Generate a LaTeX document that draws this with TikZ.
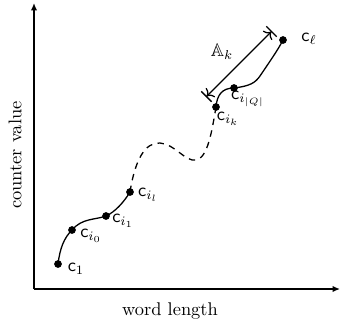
\documentclass[tikz,border=0pt]{standalone}
\usepackage{amssymb}
\usetikzlibrary{arrows.meta}
\begin{document}
\begin{tikzpicture}[x=0.5435pt,y=-0.5435pt,
  dot/.style={circle,fill=black,inner sep=0pt,minimum size=4.2pt},
  lbl/.style={inner sep=1pt},
  axis/.style={line width=0.9pt,-{Latex[length=4pt,width=3.5pt]}},
  curve/.style={line width=0.7pt},
  dcurve/.style={line width=0.7pt,dash pattern=on 3.5pt off 3pt}]
\useasboundingbox (0,0) rectangle (340,331);
\coordinate (o) at (34,289);
\coordinate (ytop) at (34,3);
\coordinate (xend) at (340,289);
\draw[axis] (o) -- (ytop);
\draw[axis] (o) -- (xend);
\node[rotate=90] (ylab) at (15,155) {counter value};
\node (xlab) at (170,311) {word length};

\node[dot] (c1) at (58,264) {};
\node[dot] (ci0) at (72,230) {};
\node[dot] (ci1) at (106,216) {};
\node[dot] (cil) at (130,192) {};
\node[dot] (cik) at (216,107) {};
\node[dot] (ciQ) at (234,88) {};
\node[dot] (cl) at (283,40) {};

\node[lbl] (lc1) at (76,269) {$\mathsf{c}_1$};
\node[lbl] (lci0) at (91,236) {$\mathsf{c}_{i_0}$};
\node[lbl] (lci1) at (123,221) {$\mathsf{c}_{i_1}$};
\node[lbl] (lcil) at (148,195) {$\mathsf{c}_{i_l}$};
\node[lbl] (lcik) at (228,119) {$\mathsf{c}_{i_k}$};
\node[lbl] (lciQ) at (248,99) {$\mathsf{c}_{i_{|Q|}}$};
\node[lbl] (lcl) at (309,39) {$\mathsf{c}_\ell$};

\draw[curve] (c1.center) .. controls (60,248) and (64,238) .. (ci0.center)
  .. controls (82,218) and (95,220) .. (ci1.center)
  .. controls (115,212) and (124,202) .. (cil.center);
\draw[dcurve] (cil.center) .. controls (135,160) and (145,142) .. (160,143)
  .. controls (175,144) and (185,162) .. (196,160)
  .. controls (208,158) and (212,130) .. (cik.center);
\draw[curve] (cik.center) .. controls (217,95) and (222,88) .. (ciQ.center)
  .. controls (250,86) and (255,83) .. (260,76)
  .. controls (268,64) and (278,50) .. (cl.center);

\coordinate (aa) at (206,97);
\coordinate (ab) at (272,31);
\draw[line width=0.7pt,{Bar[width=8pt]To[length=3pt,width=7pt]}-{To[length=3pt,width=7pt]Bar[width=8pt]}] (aa) -- (ab);
\node (Ak) at (222,52) {$\mathbb{A}_k$};
\end{tikzpicture}
\end{document}
